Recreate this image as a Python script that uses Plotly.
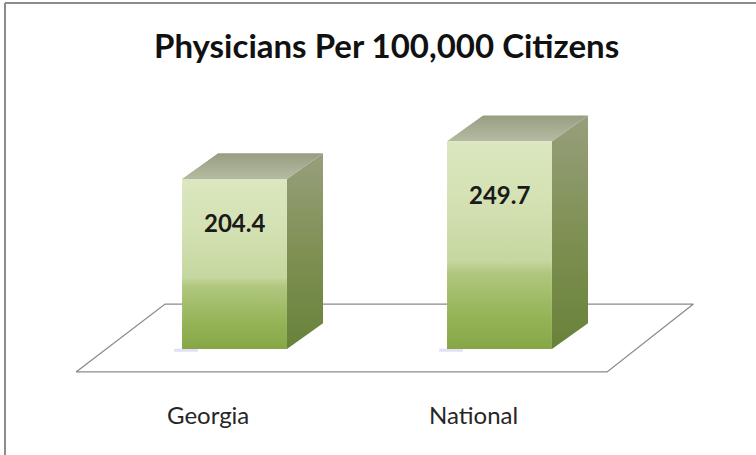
import plotly.graph_objects as go

# Chart data
categories = ["Georgia", "National"]
values = [204.4, 249.7]
title_text = "Physicians Per 100,000 Citizens"

# 3D box styling (in axis units)
BAR_W = 0.396        # front-face width in category units
DEPTH_X = 0.136      # receding offset along x
DEPTH_Y = 31.0       # receding offset along y (value units)
LABEL_FRAC = 0.745   # data label height as a fraction of the bar value

FRONT_SCALE = [[0.0, "#86a646"], [0.15, "#94b356"], [0.37, "#b0c77f"],
               [0.42, "#c5d79f"], [0.7, "#d3e1b2"], [1.0, "#dbe7c0"]]
SIDE_SCALE = [[0.0, "#68823a"], [0.45, "#7d8f50"], [1.0, "#979f7c"]]
TOP_SCALE = [[0.0, "#b4bba2"], [1.0, "#979e80"]]

fig = go.Figure()

# Floor plane
floor_front_y, floor_back_y = -27.6, 54.0
floor_x = [-0.598, 1.406, 1.732, -0.262, -0.598]
floor_y = [floor_front_y, floor_front_y, floor_back_y, floor_back_y, floor_front_y]
fig.add_trace(go.Scatter(
    x=floor_x, y=floor_y, mode="lines", fill="toself",
    fillcolor="white", line=dict(color="#8a8a8a", width=1.3),
    hoverinfo="skip", showlegend=False))

for i, (cat, v) in enumerate(zip(categories, values)):
    xl, xr = i - BAR_W / 2, i + BAR_W / 2
    # faint shadow at the base of the bar
    fig.add_trace(go.Scatter(
        x=[xl - 0.03, xl + 0.06], y=[-1.5, -1.5], mode="lines",
        line=dict(color="rgba(160,150,235,0.3)", width=3),
        hoverinfo="skip", showlegend=False))
    # side face
    fig.add_trace(go.Scatter(
        x=[xr, xr + DEPTH_X, xr + DEPTH_X, xr, xr],
        y=[0, DEPTH_Y, v + DEPTH_Y, v, 0],
        mode="lines", fill="toself", line=dict(width=0, color="rgba(0,0,0,0)"),
        fillgradient=dict(type="vertical", colorscale=SIDE_SCALE),
        hoverinfo="skip", showlegend=False))
    # top face
    fig.add_trace(go.Scatter(
        x=[xl, xr, xr + DEPTH_X, xl + DEPTH_X, xl],
        y=[v, v, v + DEPTH_Y, v + DEPTH_Y, v],
        mode="lines", fill="toself", line=dict(width=0, color="rgba(0,0,0,0)"),
        fillgradient=dict(type="vertical", colorscale=TOP_SCALE),
        hoverinfo="skip", showlegend=False))
    # front face
    fig.add_trace(go.Scatter(
        x=[xl, xr, xr, xl, xl], y=[0, 0, v, v, 0],
        mode="lines", fill="toself", line=dict(width=0, color="rgba(0,0,0,0)"),
        fillgradient=dict(type="vertical", colorscale=FRONT_SCALE),
        hoverinfo="skip", showlegend=False))
    # value label
    fig.add_annotation(
        x=i, y=v * LABEL_FRAC, xref="x", yref="y", text=f"<b>{v:.1f}</b>",
        showarrow=False, font=dict(family="Lato", size=24, color="#1a1a1a"))
    # category label
    fig.add_annotation(
        x=i - 0.1, y=-79, xref="x", yref="y", text=cat, showarrow=False,
        font=dict(family="Lato", size=24, color="#262626"))

fig.add_annotation(
    x=386 / 756, y=1 - 45 / 455, xref="paper", yref="paper",
    xanchor="center", yanchor="middle",
    text=f"<b>{title_text}</b>", showarrow=False,
    font=dict(family="Lato", size=33, color="#111111"))

# Frame lines along the top and left edges
fig.add_shape(type="line", xref="paper", yref="paper",
              x0=5 / 756, x1=1, y0=1 - 3 / 455, y1=1 - 3 / 455,
              line=dict(color="#8c8c8c", width=2))
fig.add_shape(type="line", xref="paper", yref="paper",
              x0=5 / 756, x1=5 / 756, y0=0, y1=1 - 3 / 455,
              line=dict(color="#8c8c8c", width=2))

fig.update_layout(
    width=756, height=455,
    margin=dict(l=0, r=0, t=0, b=0),
    paper_bgcolor="white", plot_bgcolor="white",
    xaxis=dict(range=[-0.885, 1.968], visible=False, fixedrange=True),
    yaxis=dict(range=[-127.4, 419.5], visible=False, fixedrange=True),
    showlegend=False,
)

fig.write_html("out.html")
